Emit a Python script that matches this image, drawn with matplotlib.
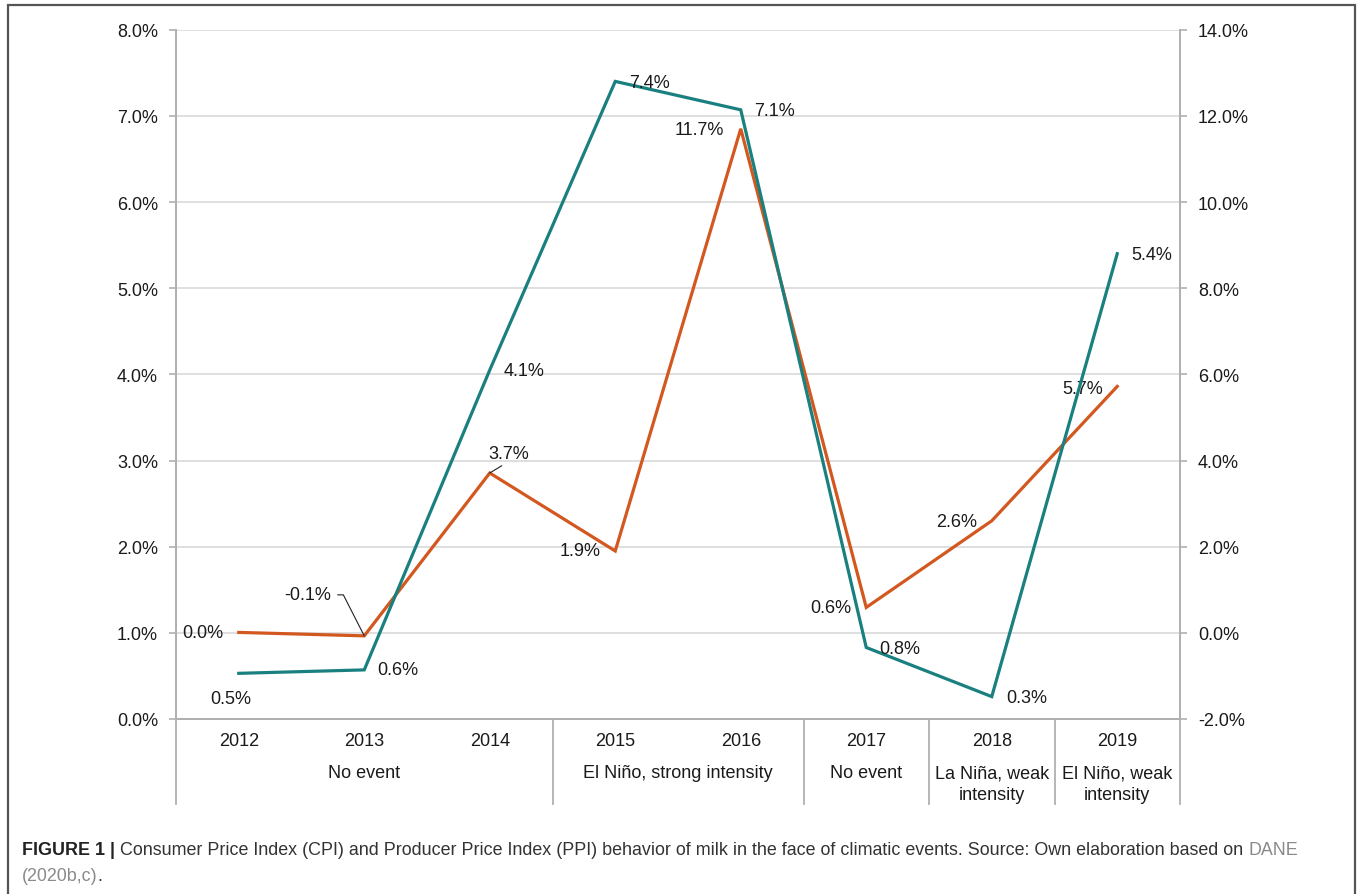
import matplotlib
matplotlib.use('Agg')
import matplotlib.pyplot as plt
from matplotlib import font_manager
from matplotlib.patches import Rectangle

# Datos
years = ['2012', '2013', '2014', '2015', '2016', '2017', '2018', '2019']
teal_values = [0.53, 0.57, 4.05, 7.40, 7.07, 0.83, 0.26, 5.40]      # eje izquierdo
teal_labels = ['0.5%', '0.6%', '4.1%', '7.4%', '7.1%', '0.8%', '0.3%', '5.4%']
orange_values = [0.01, -0.07, 3.71, 1.90, 11.70, 0.59, 2.60, 5.72]  # eje derecho
orange_labels = ['0.0%', '-0.1%', '3.7%', '1.9%', '11.7%', '0.6%', '2.6%', '5.7%']

group_names = ['No event', 'El Niño, strong intensity', 'No event',
               'La Niña, weak\nintensity', 'El Niño, weak\nintensity']
group_first = [0, 3, 5, 6, 7]
group_last = [2, 4, 5, 6, 7]

left_ticks = [0, 1, 2, 3, 4, 5, 6, 7, 8]
right_ticks = [-2, 0, 2, 4, 6, 8, 10, 12, 14]

# Desplazamientos de las etiquetas (pixeles)
teal_off = [(-8, -25), (34, 0), (34, 0), (34, -1), (34, -1), (34, -1), (35, -1), (34, -1)]
orange_off = [(-36, 0), (-57, 41), (19, 20), (-35, 0), (-41, -1), (-35, 0), (-35, -1), (-35, -2)]

W, H = 1357, 895
teal = '#19807F'
orange = '#D2581F'
spine_col = '#b0b0b0'
grid_col = '#d9d9d9'
txt_col = '#1a1a1a'
fs = 13

plt.rcParams['font.family'] = ['Liberation Sans', 'DejaVu Sans']
plt.rcParams['font.size'] = fs

fig = plt.figure(figsize=(W / 100, H / 100), dpi=100)
x0, x1, y0, y1 = 176, 1180, 720, 30.7
ax = fig.add_axes([x0 / W, 1 - y0 / H, (x1 - x0) / W, (y0 - y1) / H])
ax_r = ax.twinx()
ax.set_zorder(2)
ax_r.set_zorder(1)
ax.patch.set_visible(False)

xs = list(range(len(years)))
ax.set_xlim(-0.5, 7.5)
ax.set_ylim(0, 8)
ax_r.set_ylim(-2, 14)

ax.set_yticks(left_ticks, [f'{v:.1f}%' for v in left_ticks])
ax_r.set_yticks(right_ticks, [f'{v:.1f}%' for v in right_ticks])
ax.set_xticks([])
ax.tick_params(axis='y', length=5, width=1.2, color=spine_col, pad=8, labelsize=fs, labelcolor=txt_col)
ax_r.tick_params(axis='y', length=5, width=1.2, color=spine_col, pad=8, labelsize=fs, labelcolor=txt_col)

for a in (ax, ax_r):
    a.spines['top'].set_visible(False)
    for s in ('left', 'right', 'bottom'):
        a.spines[s].set_color(spine_col)
        a.spines[s].set_linewidth(1.3)

# Rejilla en el eje derecho (coincide con el izquierdo)
ax_r.grid(axis='y', color=grid_col, linewidth=1.2)
ax_r.set_axisbelow(True)

ax.plot(xs, teal_values, color=teal, lw=2.3, solid_joinstyle='miter', zorder=3)
ax_r.plot(xs, orange_values, color=orange, lw=2.3, solid_joinstyle='miter', zorder=3)

# Etiquetas de datos
for i, (v, lab) in enumerate(zip(teal_values, teal_labels)):
    ax.annotate(lab, (xs[i], v), xytext=teal_off[i], textcoords='offset pixels',
                ha='center', va='center', fontsize=fs, color=txt_col)

for i, (v, lab) in enumerate(zip(orange_values, orange_labels)):
    kw = {}
    if i == 1:
        kw['arrowprops'] = dict(arrowstyle='-', color='#222222', lw=0.8, shrinkA=3, shrinkB=0,
                                relpos=(1, 0.5), connectionstyle='angle,angleA=0,angleB=117,rad=0')
    elif i == 2:
        kw['arrowprops'] = dict(arrowstyle='-', color='#222222', lw=0.8, shrinkA=2, shrinkB=0,
                                relpos=(0.5, 0))
    ax_r.annotate(lab, (xs[i], v), xytext=orange_off[i], textcoords='offset pixels',
                  ha='center', va='center', fontsize=fs, color=txt_col, **kw)

# Eje de categorías
trans = ax.get_xaxis_transform()
ph = y0 - y1
def ay(py):
    return (y0 - py) / ph

for i, y in enumerate(years):
    ax.text(xs[i], ay(742), y, transform=trans, ha='center', va='center',
            fontsize=fs, color=txt_col)

bounds = [group_first[0] - 0.5] + [g + 0.5 for g in group_last]
for b in bounds:
    ax.plot([b, b], [0, ay(805)], transform=trans, color=spine_col, lw=1.3, clip_on=False)

for name, g0, g1 in zip(group_names, group_first, group_last):
    cx = (g0 + g1) / 2
    for k, line in enumerate(name.split('\n')):
        ax.text(cx, ay(774 + 21.5 * k), line, transform=trans, ha='center', va='center',
                fontsize=fs, color=txt_col)

# Marco
fig.add_artist(Rectangle((7.5 / W, -0.05), 1347 / W, 1 - 6 / H + 0.05, transform=fig.transFigure,
                         fill=False, edgecolor='#555555', lw=1.6))

# Pie de figura
def has_font(name):
    try:
        font_manager.findfont(name, fallback_to_default=False)
        return True
    except ValueError:
        return False

cap_font = 'Liberation Sans Narrow' if has_font('Liberation Sans Narrow') else 'Liberation Sans'
renderer = fig.canvas.get_renderer()

line1 = [('FIGURE 1 | ', 'bold', '#222222'),
         ('Consumer Price Index (CPI) and Producer Price Index (PPI) behavior of milk in the face of '
          'climatic events. Source: Own elaboration based on ', 'normal', '#333333'),
         ('DANE', 'normal', '#8a8a8a')]
line2 = [('(2020b,c)', 'normal', '#8a8a8a'), ('.', 'normal', '#333333')]

def draw_line(pieces, px, py, size):
    arts = []
    for txt, weight, color in pieces:
        t = fig.text(px / W, 1 - py / H, txt, fontsize=size, weight=weight, color=color,
                     family=cap_font, ha='left', va='center')
        px = t.get_window_extent(renderer).x1
        arts.append(t)
    return px, arts

end, arts = draw_line(line1, 22, 851, 12)
for t in arts:
    t.remove()
size = 12 * (1298 - 22) / (end - 22)
draw_line(line1, 22, 851, size)
draw_line(line2, 22, 877, size)

fig.savefig('out.png', dpi=100, facecolor='white')
